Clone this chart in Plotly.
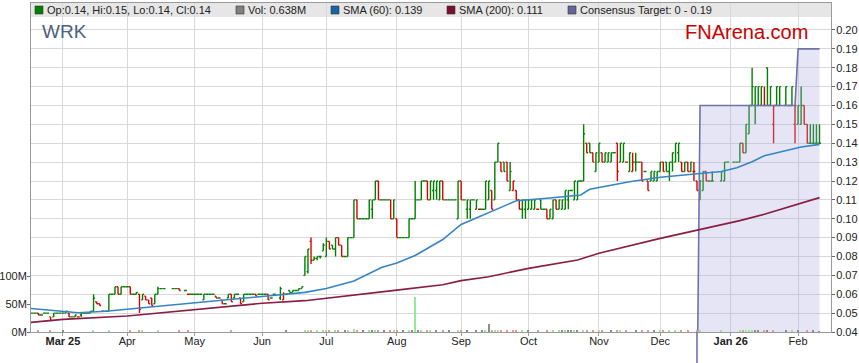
import numpy as np
import pandas as pd
import plotly.graph_objects as go

# ---------------- data ----------------
# one tuple per weekday: (open, high, low, close) in thousandths of a dollar, volume in millions
# None = market holiday
bars_feb25 = [(50,50,50,50,0),(50,50,50,50,0),(50,50,50,50,0),(50,50,49,49,2),(49,49,49,49,0),
              (50,50,50,50,0),(50,50,50,50,0),(48,48,46,46,2),(48,50,48,50,0),(50,50,50,50,0),
              (50,50,50,50,0)]
bars_mar25 = [(50,50,50,50,3),(50,51,50,51,0),(50,50,48,48,0),(48,48,48,48,0),(48,49,48,49,0),
              (48,48,48,48,0),(49,50,48,50,0),(50,50,50,50,0),(50,50,50,50,0),(50,51,50,51,0),
              (51,60,51,58,2),(56,56,55,55,0),(55,55,54,54,0),(51,51,51,51,0),(51,51,51,51,0),
              (51,60,51,60,3),(60,60,60,60,0),(60,64,60,64,0),(64,64,60,60,0),(60,64,60,64,0),
              (64,64,64,64,0)]
bars_apr25 = [(64,64,64,64,0),(64,64,60,60,2),(60,60,60,60,0),(60,61,60,61,0),(60,60,50,52,3),
              (57,60,57,60,2),(59,59,57,57,0),(57,57,55,55,0),(58,58,54,54,0),(55,60,55,60,0),
              (60,64,60,63,2),(63,63,63,63,0),(63,63,63,63,0),None,None,
              (63,63,63,63,0),(63,63,63,63,0),(63,63,62,62,2),None,(62,62,62,62,0),
              (60,60,60,60,2),(60,60,60,60,0)]
bars_may25 = [(60,60,60,60,0),(60,60,60,60,0),(60,60,60,60,0),(57,60,57,60,0),(60,60,60,60,0),
              (60,60,60,60,0),(60,60,60,60,0),(59,59,58,58,0),(58,58,58,58,0),(57,57,55,55,0),
              (55,55,55,55,0),(58,60,58,60,0),(60,60,56,56,2),(58,60,58,60,0),(60,60,60,60,0),
              (58,58,55,55,0),(56,60,56,60,0),(60,60,60,60,0),(60,60,60,60,0),(60,60,60,60,0),
              (60,60,59,59,0),(60,60,60,60,0)]
bars_jun25 = [(60,60,60,60,0),(60,60,60,60,0),(60,60,57,57,0),(58,58,58,58,0),(60,60,60,60,0),
              None,(58,64,57,63,0),(57,61,57,60,0),(60,60,60,60,2),(62,62,61,61,0),
              (61,62,61,62,0),(62,62,62,62,0),(62,63,62,63,0),(63,64,63,64,0),(70,80,70,80,4),
              (72,84,71,84,3),(88,90,76,78,3),(78,80,78,79,0),(79,80,78,80,2),(80,80,79,80,0),
              (83,87,83,86,2)]
bars_jul25 = [(80,90,80,88,3),(88,88,84,84,2),(86,86,84,84,0),(84,90,80,90,3),(90,90,86,86,2),
              (86,86,80,80,0),(80,80,80,80,2),(80,90,80,90,3),(90,90,90,90,0),(90,110,90,110,5),
              (110,110,100,100,3),(100,100,100,100,0),(100,100,100,100,2),(100,100,100,100,0),
              (100,110,100,110,3),(105,110,100,110,2),(110,120,110,120,4),(120,120,110,110,2),
              (110,110,110,110,0),(110,110,110,110,2),(110,110,110,110,0),(110,110,100,100,3),
              (100,110,100,110,2)]
bars_aug25 = [(100,100,90,90,2),(90,90,90,90,0),(90,90,90,90,2),(90,90,90,90,0),(90,100,90,100,3),
              (100,100,100,100,2),(100,120,100,110,62),(110,110,110,110,2),(110,120,110,120,3),
              (120,120,120,120,0),(120,120,110,110,2),(110,120,110,120,2),(115,120,110,120,0),
              (115,120,110,120,2),(110,120,110,120,0),(120,120,110,110,3),(110,110,110,110,0),
              (110,110,110,110,2),(110,110,110,110,0),(110,110,110,110,0),(100,120,100,120,2)]
bars_sep25 = [(120,120,110,110,2),(110,110,110,110,0),(105,110,100,110,2),(105,110,100,110,0),
              (110,110,110,110,0),(105,110,105,110,2),(105,105,105,105,0),(105,105,105,105,2),
              (105,120,105,120,3),(110,120,110,120,14),(115,115,105,105,2),(110,130,110,130,3),
              (130,140,130,140,4),(130,130,125,125,2),(130,130,125,125,0),(130,130,120,120,2),
              (115,130,115,125,0),(115,120,115,120,2),(115,115,110,110,2),(110,110,105,105,0),
              (105,110,100,110,2),(105,110,100,110,0)]
bars_oct25 = [(105,110,105,110,2),(105,110,105,110,0),(105,110,105,110,0),(105,105,105,105,2),
              (110,110,105,105,0),(105,105,105,105,0),(105,105,100,100,3),(100,105,100,105,0),
              (100,110,100,110,2),(110,110,105,105,0),(105,110,105,110,2),(105,110,105,110,3),
              (105,115,105,115,2),(110,115,105,115,4),(115,115,115,115,2),(110,120,110,120,3),
              (110,120,110,120,2),(120,120,120,120,0),(120,150,120,145,4),(140,140,135,135,2),
              (140,140,135,135,0),(135,135,130,130,2),(125,135,125,135,0)]
bars_nov25 = [(130,140,130,140,2),(135,135,130,130,3),(130,135,130,135,0),(130,135,130,135,0),
              (130,135,130,135,2),(135,135,135,135,0),(140,140,120,125,3),(130,140,130,140,2),
              (130,140,130,140,0),(130,130,130,130,2),(125,135,125,135,0),(125,135,125,130,0),
              (130,135,125,130,2),(130,130,130,130,0),(130,130,120,120,3),(125,125,125,125,0),
              (120,120,115,115,2),(120,125,120,125,0),(120,125,120,125,2),(120,125,120,125,0)]
bars_dec25 = [(125,130,125,130,2),(130,130,125,125,3),(130,130,125,125,0),(125,130,120,130,2),
              (130,135,125,135,0),(130,140,130,140,2),(135,140,130,140,0),(130,130,125,125,2),
              (125,130,125,130,0),(130,130,125,125,2),(125,130,125,130,0),(125,130,120,125,0),
              (120,120,115,115,2),(110,120,110,120,2),(115,125,115,125,0),(125,125,120,120,0),
              (120,120,120,120,0),(120,125,120,120,0),None,None,
              (120,125,120,125,2),(120,130,120,130,0),(130,130,130,130,0)]
bars_jan26 = [None,(130,130,130,130,0),(130,130,130,130,0),(130,140,130,140,2),(140,140,135,135,2),
              (135,150,135,150,3),(145,160,145,160,2),(160,180,160,170,3),(160,170,150,170,2),
              (160,170,160,170,2),(160,170,160,170,0),(160,170,160,160,2),(180,180,160,160,3),
              (160,170,160,170,0),(150,160,140,160,2),(160,170,160,170,0),(160,170,160,170,0),
              None,(160,170,160,170,2),(160,160,160,160,0),(160,170,160,170,2),(150,160,140,160,0)]
bars_feb26 = [(150,160,150,160,2),(150,170,150,160,0),(160,160,150,150,0),(150,150,140,140,2),
              (140,150,140,140,0),(140,150,140,140,2),(140,150,140,140,0),(140,150,140,140,0.638)]

month_blocks = [
    ("2025-02-14", "2025-02-28", bars_feb25), ("2025-03-01", "2025-03-31", bars_mar25),
    ("2025-04-01", "2025-04-30", bars_apr25), ("2025-05-01", "2025-05-31", bars_may25),
    ("2025-06-01", "2025-06-30", bars_jun25), ("2025-07-01", "2025-07-31", bars_jul25),
    ("2025-08-01", "2025-08-31", bars_aug25), ("2025-09-01", "2025-09-30", bars_sep25),
    ("2025-10-01", "2025-10-31", bars_oct25), ("2025-11-01", "2025-11-30", bars_nov25),
    ("2025-12-01", "2025-12-31", bars_dec25), ("2026-01-01", "2026-01-31", bars_jan26),
    ("2026-02-01", "2026-02-11", bars_feb26),
]

sma60_dates = ["2025-02-14","2025-03-03","2025-03-10","2025-03-21","2025-04-01","2025-05-01",
               "2025-06-02","2025-06-20","2025-07-01","2025-07-14","2025-07-25","2025-08-01",
               "2025-08-11","2025-08-22","2025-09-01","2025-09-15","2025-09-25","2025-10-10",
               "2025-10-24","2025-10-29","2025-11-06","2025-11-17","2025-12-01","2025-12-17",
               "2025-12-29","2026-01-05","2026-01-12","2026-01-16","2026-01-22","2026-02-03",
               "2026-02-11"]
sma60_vals = [0.0525,0.0510,0.0502,0.0510,0.0521,0.0555,0.0590,0.0610,0.0630,0.0670,0.0742,0.0765,
              0.0805,0.0890,0.0970,0.1040,0.1095,0.1110,0.1126,0.1156,0.1175,0.1196,0.1220,0.1237,
              0.1250,0.1270,0.1302,0.1334,0.1350,0.1380,0.1394]

sma200_dates = ["2025-02-14","2025-03-03","2025-04-01","2025-05-01","2025-06-02","2025-06-20",
                "2025-07-03","2025-08-01","2025-08-22","2025-09-01","2025-09-12","2025-10-01",
                "2025-10-23","2025-11-03","2025-12-01","2025-12-17","2026-01-06","2026-01-16",
                "2026-02-11"]
sma200_vals = [0.0450,0.0467,0.0485,0.0517,0.0552,0.0566,0.0582,0.0622,0.0650,0.0672,0.0693,0.0737,
               0.0781,0.0817,0.0896,0.0940,0.0990,0.1024,0.1112]

target_dates = ["2025-12-17","2025-12-18","2026-01-30","2026-02-02","2026-02-11"]
target_vals = [0.0, 0.16, 0.16, 0.19, 0.19]

month_ticks = ["2025-03-03","2025-04-01","2025-05-01","2025-06-02","2025-07-01","2025-08-01",
               "2025-09-01","2025-10-01","2025-11-03","2025-12-01","2026-01-01","2026-02-02"]
month_labels = ["<b>Mar 25</b>","Apr","May","Jun","Jul","Aug","Sep","Oct","Nov","Dec",
                "<b>Jan 26</b>","Feb"]

price_ticks = [0.04,0.05,0.06,0.07,0.08,0.09,0.10,0.11,0.12,0.13,0.14,0.15,0.16,0.17,0.18,0.19,0.20]
vol_ticks = [0, 50, 100]
vol_labels = ["0M", "50M", "100M"]

legend_items = [
    ("Op:0.14, Hi:0.15, Lo:0.14, Cl:0.14", "#008000", 35),
    ("Vol: 0.638M", "#808080", 236),
    ("SMA (60): 0.139", "#1a64a6", 331),
    ("SMA (200): 0.111", "#7a1030", 447),
    ("Consensus Target: 0 - 0.19", "#64649a", 568),
]

# ---------------- assemble ----------------
dates, opens, highs, lows, closes, vols = [], [], [], [], [], []
for start, end, block in month_blocks:
    days = pd.bdate_range(start, end)
    for d, bar in zip(days, block):
        if bar is None:
            continue
        o, h, l, c, v = bar
        dates.append(d)
        opens.append(o / 1000); highs.append(h / 1000)
        lows.append(l / 1000); closes.append(c / 1000); vols.append(v)

dates = np.array(dates)
opens, highs, lows, closes, vols = map(np.array, (opens, highs, lows, closes, vols))
prev = np.r_[closes[0], closes[:-1]]
up = closes >= prev - 1e-9
vol_colors = np.where(closes > prev + 1e-9, "#98e898",
                      np.where(closes < prev - 1e-9, "#f09494", "#8c8c8c"))

# plot geometry (pixels) used for paper placement of decorations
W, H = 859, 363
L, R, T, B = 31, 28, 3, 31
PW, PH = W - L - R, H - T - B
def px_x(x): return (x - L) / PW
def px_y(y): return (H - B - y) / PH

fig = go.Figure()

fig.add_trace(go.Scatter(x=target_dates, y=target_vals, mode="lines",
                         line=dict(color="#7272aa", width=1.6),
                         fill="tozeroy", fillcolor="rgba(170,170,225,0.30)",
                         hoverinfo="skip"))

for mask, col in ((up, "#008000"), (~up, "#dd0000")):
    fig.add_trace(go.Ohlc(x=dates[mask], open=opens[mask], high=highs[mask],
                          low=lows[mask], close=closes[mask], tickwidth=0.48,
                          increasing=dict(line=dict(color=col, width=1.4)),
                          decreasing=dict(line=dict(color=col, width=1.4)),
                          hoverinfo="skip"))

fig.add_trace(go.Scatter(x=sma200_dates, y=sma200_vals, mode="lines",
                         line=dict(color="#8a1d42", width=1.6), hoverinfo="skip"))
fig.add_trace(go.Scatter(x=sma60_dates, y=sma60_vals, mode="lines",
                         line=dict(color="#3585c5", width=1.6), hoverinfo="skip"))

fig.add_trace(go.Bar(x=dates, y=vols, marker=dict(color=list(vol_colors), line=dict(width=0)),
                     width=0.45 * 86400000, yaxis="y2", hoverinfo="skip"))

shapes = [
    dict(type="rect", xref="paper", yref="paper", x0=0, x1=1, y0=px_y(17), y1=1,
         fillcolor="#e6e6e6", line=dict(width=0), layer="below"),
    dict(type="line", xref="x", yref="paper", x0=target_dates[0], x1=target_dates[0],
         y0=px_y(H), y1=0, line=dict(color="#7272aa", width=1.6)),
]
annotations = []
for text, col, x0 in legend_items:
    shapes.append(dict(type="rect", xref="paper", yref="paper", x0=px_x(x0), x1=px_x(x0 + 8),
                       y0=px_y(14), y1=px_y(6), fillcolor=col, line=dict(color="#333", width=0.6)))
    annotations.append(dict(x=px_x(x0 + 11), y=px_y(10), xref="paper", yref="paper",
                            text=text, showarrow=False, xanchor="left", yanchor="middle",
                            font=dict(size=11, color="#222"), borderpad=0))

annotations.append(dict(x=px_x(41), y=px_y(31), xref="paper", yref="paper", text="WRK",
                        showarrow=False, xanchor="left", yanchor="middle",
                        font=dict(size=19, color="#4f5f80"), borderpad=0))
annotations.append(dict(x=px_x(809), y=px_y(32), xref="paper", yref="paper", text="FNArena.com",
                        showarrow=False, xanchor="right", yanchor="middle",
                        font=dict(size=20, color="#cc0000"), borderpad=0))

fig.update_layout(
    width=W, height=H, margin=dict(l=L, r=R, t=T, b=B, autoexpand=False),
    paper_bgcolor="white", plot_bgcolor="rgba(0,0,0,0)", showlegend=False,
    font=dict(family="Arial, Liberation Sans, sans-serif", size=11, color="#333"),
    xaxis=dict(type="date", range=["2025-02-14 14:00", "2026-02-16 18:00"],
               rangebreaks=[dict(bounds=["sat", "mon"])],
               rangeslider=dict(visible=False), automargin=False,
               tickvals=month_ticks, ticktext=month_labels,
               showgrid=True, gridcolor="#d9d9d9", gridwidth=1,
               showline=True, linecolor="#9a9a9a", linewidth=1, mirror=True,
               ticks="outside", ticklen=3, tickcolor="#9a9a9a", ticklabelstandoff=-4,
               tickfont=dict(size=11, color="#222"), zeroline=False),
    yaxis=dict(side="right", range=[0.04, 0.2143], tickvals=price_ticks, tickformat=".2f",
               automargin=False,
               showgrid=True, gridcolor="#d9d9d9", gridwidth=1,
               showline=True, linecolor="#9a9a9a", linewidth=1, mirror=True,
               ticks="outside", ticklen=3, tickcolor="#666", ticklabelstandoff=-1,
               tickfont=dict(size=11, color="#222"), zeroline=False),
    yaxis2=dict(overlaying="y", side="left", range=[0, 587.5], tickvals=vol_ticks,
                ticktext=vol_labels, showgrid=False, zeroline=False, automargin=False,
                ticks="outside", ticklen=3, tickcolor="#666", ticklabelstandoff=-2,
                tickfont=dict(size=11, color="#222")),
    shapes=shapes, annotations=annotations, bargap=0,
)

fig.write_html("out.html", config={"displayModeBar": False},
               post_script="document.body.style.margin='0';document.body.style.overflow='hidden';")
